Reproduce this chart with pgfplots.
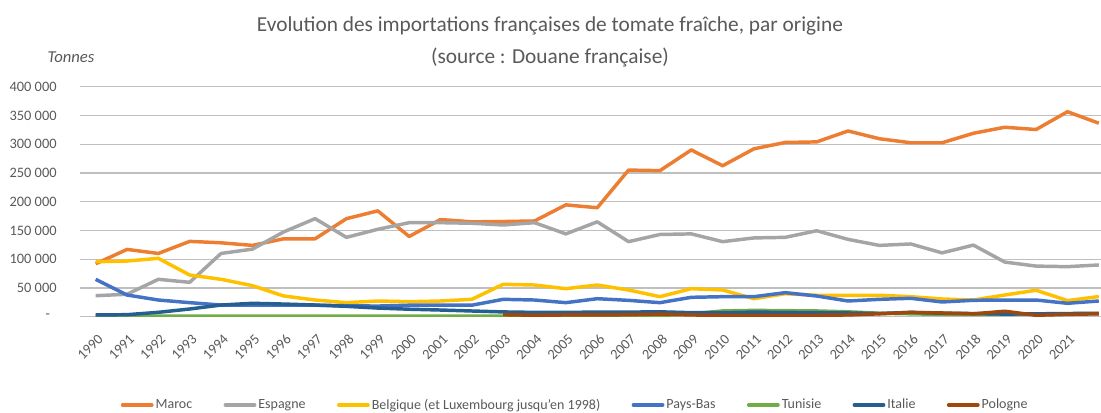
\documentclass[border=0pt]{standalone}
\usepackage{pgfplots}
\pgfplotsset{compat=1.18}
\usepackage{fontspec}
\setmainfont{Carlito}
\definecolor{txt}{HTML}{595959}
\definecolor{grid}{HTML}{D9D9D9}
\definecolor{cMaroc}{HTML}{ED7D31}
\definecolor{cEsp}{HTML}{A5A5A5}
\definecolor{cBel}{HTML}{FFC000}
\definecolor{cPB}{HTML}{4472C4}
\definecolor{cTun}{HTML}{70AD47}
\definecolor{cIta}{HTML}{255E91}
\definecolor{cPol}{HTML}{9E480E}
\begin{document}
\begin{tikzpicture}
\begin{axis}[
  at={(60pt,72.225pt)}, anchor=south west,
  scale only axis,
  width=765.75pt, height=172.5pt,
  xmin=1989.5, xmax=2022.07,
  ymin=0, ymax=400000,
  scaled y ticks=false, scaled x ticks=false,
  axis line style={draw=none},
  major tick length=0pt, tick style={draw=none},
  ymajorgrids, xmajorgrids=false, major grid style={grid, line width=0.9pt},
  ytick={0,50000,...,400000},
  yticklabels={{-\hspace*{5pt}},50 000,100 000,150 000,200 000,250 000,300 000,350 000,400 000},
  xtick={1990,...,2021},
  xticklabels={1990,1991,1992,1993,1994,1995,1996,1997,1998,1999,2000,2001,2002,2003,2004,2005,2006,2007,2008,2009,2010,2011,2012,2013,2014,2015,2016,2017,2018,2019,2020,2021},
  tick label style={font=\fontsize{10.8}{12}\selectfont, text=txt},
  yticklabel style={anchor=east, xshift=-14pt},
  xticklabel style={rotate=45, anchor=north east, yshift=-6pt, xshift=-4.5pt},
  legend columns=-1,
  legend style={at={(0.485,-0.384)}, anchor=center, draw=none, fill=none,
    font=\fontsize{10.5}{12}\selectfont, text=txt,
    /tikz/every even column/.append style={column sep=22pt},
    nodes={inner xsep=1.5pt}},
  legend image code/.code={\draw[#1, line cap=round] (0pt,0pt) -- (22pt,0pt);},
  every axis plot/.append style={line width=2.6pt, line join=round, no markers},
]
\addplot[cMaroc] coordinates {(1990,92000) (1991,117000) (1992,110000) (1993,131000) (1994,128500) (1995,124000) (1996,135500) (1997,135500) (1998,170500) (1999,184000) (2000,139500) (2001,169000) (2002,165000) (2003,165500) (2004,166500) (2005,194500) (2006,189500) (2007,255000) (2008,254000) (2009,290000) (2010,262500) (2011,292000) (2012,303000) (2013,304000) (2014,323000) (2015,309500) (2016,302500) (2017,302500) (2018,319000) (2019,329500) (2020,325500) (2021,356500) (2022,336500)};
\addplot[cEsp] coordinates {(1990,36500) (1991,39000) (1992,65000) (1993,59800) (1994,110000) (1995,117500) (1996,147500) (1997,170500) (1998,138000) (1999,152000) (2000,163500) (2001,163500) (2002,162500) (2003,159500) (2004,163500) (2005,144000) (2006,165000) (2007,130500) (2008,143000) (2009,144000) (2010,130500) (2011,137000) (2012,138000) (2013,149500) (2014,134500) (2015,124000) (2016,126500) (2017,111000) (2018,124500) (2019,95000) (2020,88000) (2021,87000) (2022,90000)};
\addplot[cBel] coordinates {(1990,95600) (1991,96800) (1992,101500) (1993,72500) (1994,65000) (1995,54000) (1996,36000) (1997,29000) (1998,24400) (1999,27300) (2000,26100) (2001,27300) (2002,30200) (2003,56300) (2004,55100) (2005,48700) (2006,55100) (2007,46400) (2008,34800) (2009,48700) (2010,46400) (2011,31300) (2012,40000) (2013,37200) (2014,37200) (2015,37200) (2016,34800) (2017,30800) (2018,29000) (2019,37700) (2020,46000) (2021,28000) (2022,35000)};
\addplot[cPB] coordinates {(1990,65000) (1991,37700) (1992,29000) (1993,24400) (1994,20300) (1995,20300) (1996,20300) (1997,20000) (1998,19000) (1999,18500) (2000,20000) (2001,20300) (2002,20000) (2003,30200) (2004,29000) (2005,24400) (2006,31300) (2007,28400) (2008,24400) (2009,33700) (2010,34800) (2011,34800) (2012,41800) (2013,36000) (2014,27300) (2015,30200) (2016,32000) (2017,25600) (2018,28500) (2019,29000) (2020,29000) (2021,23300) (2022,27300)};
\addplot[cTun] coordinates {(1990,1000) (1991,1000) (1992,1000) (1993,1000) (1994,1000) (1995,1000) (1996,1000) (1997,1000) (1998,1000) (1999,1000) (2000,1000) (2001,1000) (2002,1000) (2003,1000) (2004,1000) (2005,1000) (2006,1000) (2007,1000) (2008,2000) (2009,5000) (2010,10000) (2011,11000) (2012,10500) (2013,10000) (2014,8500) (2015,6000) (2016,5000) (2017,4000) (2018,4000) (2019,4000) (2020,4500) (2021,5000) (2022,5500)};
\addplot[cIta] coordinates {(1990,3000) (1991,3500) (1992,7600) (1993,13400) (1994,20300) (1995,23300) (1996,22000) (1997,20300) (1998,18000) (1999,15000) (2000,13000) (2001,11600) (2002,9900) (2003,8300) (2004,7500) (2005,7500) (2006,8000) (2007,8000) (2008,8500) (2009,7000) (2010,7000) (2011,8000) (2012,7500) (2013,7000) (2014,6500) (2015,5500) (2016,7500) (2017,6000) (2018,5500) (2019,4500) (2020,5000) (2021,5500) (2022,6000)};
\addplot[cPol] coordinates {(2003,3500) (2004,2500) (2005,3000) (2006,3000) (2007,3500) (2008,4500) (2009,3000) (2010,2500) (2011,2500) (2012,2500) (2013,2500) (2014,3000) (2015,5000) (2016,7500) (2017,6500) (2018,5000) (2019,9500) (2020,2500) (2021,4000) (2022,5000)};
\legend{Maroc,Espagne,Belgique (et Luxembourg jusqu'en 1998),Pays-Bas,Tunisie,Italie,Pologne}
\end{axis}
\node[text=txt, font=\fontsize{16}{19}\selectfont, align=center] at (412.5pt,278.5pt) {Evolution des importations françaises de tomate fraîche, par origine\\[5pt](source : Douane française)};
\node[text=txt, font=\fontsize{12.5}{14}\selectfont\itshape] at (53.25pt,267pt) {Tonnes};
\pgfresetboundingbox
\path[use as bounding box] (0,0) rectangle (825.75pt,309.75pt);
\end{tikzpicture}
\end{document}
